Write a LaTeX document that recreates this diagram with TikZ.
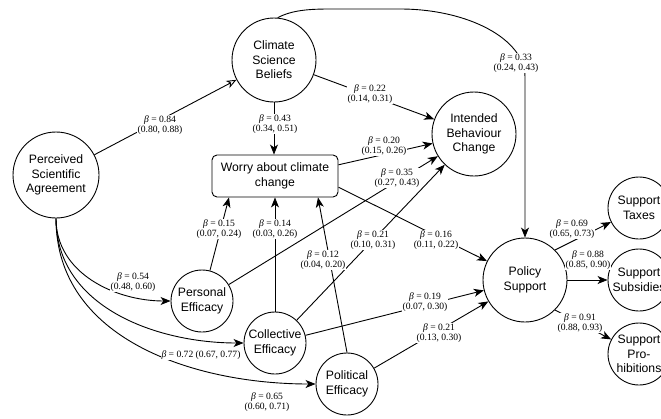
\documentclass[tikz,border=0pt]{standalone}
\usepackage{fontspec}
\setmainfont{Liberation Sans}
\newfontfamily\lblfont{Liberation Serif}
\usetikzlibrary{arrows.meta}
\begin{document}
\begin{tikzpicture}[x=1pt,y=-1pt,
  nodefont/.style={font=\fontsize{12.2}{14.5}\selectfont},
  big/.style={circle,draw,line width=0.9pt,minimum size=84pt,inner sep=0pt,align=center,nodefont},
  small/.style={big,minimum size=62pt},
  boxnode/.style={draw,rounded corners=5pt,line width=0.9pt,minimum width=126pt,minimum height=42pt,inner sep=0pt,align=center,nodefont},
  arr/.style={line width=0.9pt,-{Stealth[length=10pt,width=8pt,inset=2.8pt]}},
  openarr/.style={line width=0.9pt,-{Stealth[open,length=10pt,width=8pt,inset=2.8pt]}},
  lbl/.style={font=\lblfont\fontsize{9.6}{10.6}\selectfont,fill=white,inner sep=0.5pt,align=center},
]
\useasboundingbox (0,0) rectangle (661,418);

% nodes
\node[big,minimum size=86pt] (PSA) at (56,175) {Perceived\\Scientific\\Agreement};
\node[big] (CSB) at (274,60) {Climate\\Science\\Beliefs};
\node[big] (IBC) at (474,134) {Intended\\Behaviour\\Change};
\node[boxnode] (W) at (275,176) {Worry about climate\\change};
\node[small] (PE) at (202,301) {Personal\\Efficacy};
\node[small] (CE) at (275,343) {Collective\\Efficacy};
\node[small] (PolE) at (347,384) {Political\\Efficacy};
\node[big] (PS) at (525,280) {Policy\\Support};
\node[small] (ST) at (639,208) {Support\\Taxes};
\node[small] (SS) at (639,280) {Support\\Subsidies};
\node[small] (SP) at (639,354) {Support\\Pro-\\hibitions};

% connectors
\draw[openarr] (PSA) -- (CSB);
\draw[arr] (CSB) -- (CSB |- W.north);
\draw[arr] (CSB) -- (IBC);
\draw[arr] (CSB.85) .. controls (292,10) and (310,9) .. (330,9) -- (400,9)
  .. controls (468,9) and (525,39) .. (525,77) -- (PS.north);
\draw[arr] (W.10) -- (IBC);
\draw[arr] (W.-10) -- (PS);
\draw[arr] (PE) -- ([xshift=-46pt]W.south);
\draw[arr] (CE) -- (CE |- W.south);
\draw[arr] (PolE.north) -- ([xshift=43pt]W.south);
\draw[arr] (PE) -- (IBC);
\draw[arr] (CE) -- (IBC);
\draw[arr] (CE) -- (PS);
\draw[arr] (PolE) -- (PS);
\draw[arr] (PSA.south) .. controls +(0,55) and +(-55,0) .. (PE.west);
\draw[arr] (PSA.south) .. controls +(0,88) and +(-88,0) .. (CE.west);
\draw[arr] (PSA.south) .. controls +(0,121) and +(-121,0) .. (PolE.west);
\draw[arr] (PS) -- (SS);
\draw[arr] (PS.45) -- (ST);
\draw[arr] (PS.-45) -- (SP);

% labels
\node[lbl] (l084) at (160,125) {\textit{β} = 0.84\\(0.80, 0.88)};
\node[lbl] (l043) at (275,124) {\textit{β} = 0.43\\(0.34, 0.51)};
\node[lbl] (l022) at (370,94) {\textit{β} = 0.22\\(0.14, 0.31)};
\node[lbl] (l033) at (516,63) {\textit{β} = 0.33\\(0.24, 0.43)};
\node[lbl] (l020) at (384,146) {\textit{β} = 0.20\\(0.15, 0.26)};
\node[lbl] (l035) at (397,178) {\textit{β} = 0.35\\(0.27, 0.43)};
\node[lbl] (l021a) at (373,240) {\textit{β} = 0.21\\(0.10, 0.31)};
\node[lbl] (l016) at (436,240) {\textit{β} = 0.16\\(0.11, 0.22)};
\node[lbl] (l015) at (219,229) {\textit{β} = 0.15\\(0.07, 0.24)};
\node[lbl] (l014) at (275,229) {\textit{β} = 0.14\\(0.03, 0.26)};
\node[lbl] (l012) at (323,260) {\textit{β} = 0.12\\(0.04, 0.20)};
\node[lbl] (l019) at (425,302) {\textit{β} = 0.19\\(0.07, 0.30)};
\node[lbl] (l021b) at (439,333) {\textit{β} = 0.21\\(0.13, 0.30)};
\node[lbl] (l054) at (133,282) {\textit{β} = 0.54\\(0.48, 0.60)};
\node[lbl] (l072) at (201,355) {\textit{β} = 0.72 (0.67, 0.77)};
\node[lbl] (l065) at (267,402) {\textit{β} = 0.65\\(0.60, 0.71)};
\node[lbl] (l069) at (572,229) {\textit{β} = 0.69\\(0.65, 0.73)};
\node[lbl] (l088) at (588,260) {\textit{β} = 0.88\\(0.85, 0.90)};
\node[lbl] (l091) at (580,323) {\textit{β} = 0.91\\(0.88, 0.93)};
\end{tikzpicture}
\end{document}
